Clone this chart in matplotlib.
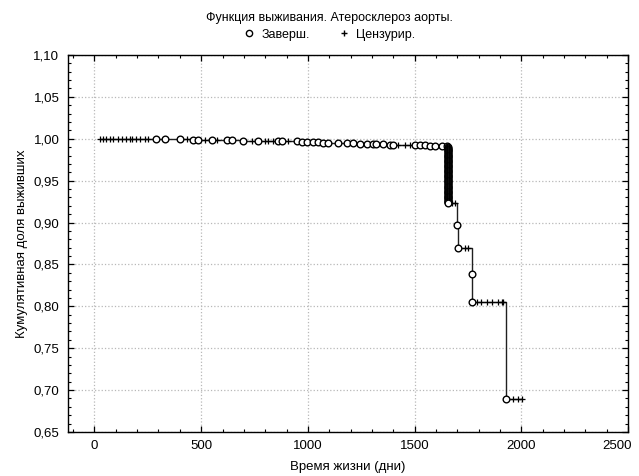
import matplotlib
matplotlib.use('Agg')
import matplotlib.pyplot as plt
from matplotlib.lines import Line2D
from matplotlib.ticker import MultipleLocator, FuncFormatter
from matplotlib.transforms import ScaledTranslation
import numpy as np

plt.rcParams['font.family'] = ['Liberation Sans', 'DejaVu Sans']

# Завершённые случаи (смерти): время, кумулятивная доля выживших
event_t = [290, 330, 400, 460, 485, 550, 620, 645, 697, 767,
           860, 878, 948, 972, 995, 1023, 1047, 1071, 1094, 1140,
           1183, 1211, 1244, 1277, 1305, 1320, 1352, 1385, 1400, 1502,
           1525, 1548, 1572, 1595, 1628, 1650]
event_s = [0.9998, 0.9995, 0.9993, 0.9990, 0.9988, 0.9985, 0.9983, 0.9980, 0.9978, 0.9975,
           0.9973, 0.9970, 0.9968, 0.9965, 0.9963, 0.9960, 0.9958, 0.9955, 0.9953, 0.9950,
           0.9948, 0.9945, 0.9943, 0.9940, 0.9938, 0.9935, 0.9933, 0.9930, 0.9928, 0.9925,
           0.9923, 0.9920, 0.9918, 0.9915, 0.9913, 0.9910]

# большой обрыв около 1656 дней (много смертей подряд)
drop_t = [1656] * 68
drop_s = [0.990, 0.989, 0.988, 0.987, 0.986, 0.985, 0.984, 0.983, 0.982, 0.981,
          0.980, 0.979, 0.978, 0.977, 0.976, 0.975, 0.974, 0.973, 0.972, 0.971,
          0.970, 0.969, 0.968, 0.967, 0.966, 0.965, 0.964, 0.963, 0.962, 0.961,
          0.960, 0.959, 0.958, 0.957, 0.956, 0.955, 0.954, 0.953, 0.952, 0.951,
          0.950, 0.949, 0.948, 0.947, 0.946, 0.945, 0.944, 0.943, 0.942, 0.941,
          0.940, 0.939, 0.938, 0.937, 0.936, 0.935, 0.934, 0.933, 0.932, 0.931,
          0.930, 0.929, 0.928, 0.927, 0.926, 0.925, 0.924, 0.923]

late_t = [1700, 1703, 1767, 1770, 1927]
late_s = [0.897, 0.870, 0.839, 0.805, 0.689]

# Цензурированные
cens_t = [25, 40, 55, 72, 86, 110, 130, 150, 165, 175, 195, 215, 235, 250,
          432, 517, 575, 737, 800, 815, 836, 907, 1422, 1455, 1478,
          1675, 1690, 1737, 1752, 1790, 1813, 1837, 1860, 1891, 1907, 1915,
          1962, 1985, 2004]
cens_s = [1.0] * 14 + [0.9993, 0.9985, 0.9985, 0.9978, 0.9975, 0.9975, 0.9975, 0.9970,
                       0.9928, 0.9928, 0.9928,
                       0.923, 0.923, 0.870, 0.870, 0.805, 0.805, 0.805, 0.805, 0.805, 0.805, 0.805,
                       0.689, 0.689, 0.689]

x_max = 2500

ev_t = np.array(event_t + drop_t + late_t, dtype=float)
ev_s = np.array(event_s + drop_s + late_s)
all_t = np.concatenate([ev_t, np.array(cens_t, dtype=float)])
all_s = np.concatenate([ev_s, np.array(cens_s)])
order = np.lexsort((-all_s, all_t))
line_t = all_t[order]
line_s = all_s[order]

fig = plt.figure(figsize=(6.39, 4.76), dpi=100)
ax = fig.add_axes([0.106, 0.0925, 0.877, 0.792])

ax.step(line_t, line_s, where='post', color='#202020', lw=1.0, zorder=3)
ax.plot(cens_t, cens_s, linestyle='none', marker='+', markersize=5,
        color='black', markeredgewidth=0.9, zorder=4)
idx = np.argsort(-ev_s)
ax.plot(ev_t[idx], ev_s[idx], linestyle='none', marker='o', markersize=4.8,
        markerfacecolor='white', markeredgecolor='black', markeredgewidth=1.0, zorder=5)

ax.set_xlim(-125, x_max)
ax.set_ylim(0.65, 1.10)
ax.xaxis.set_major_locator(MultipleLocator(500))
ax.xaxis.set_minor_locator(MultipleLocator(100))
ax.yaxis.set_major_locator(MultipleLocator(0.05))
ax.yaxis.set_minor_locator(MultipleLocator(0.01))
ax.yaxis.set_major_formatter(FuncFormatter(lambda v, p: f'{v:.2f}'.replace('.', ',')))
# последнюю подпись рисуем отдельно, прижатой к краю
ax.xaxis.set_major_formatter(FuncFormatter(lambda v, p: '' if v >= x_max else f'{v:.0f}'))

ax.tick_params(which='both', direction='in', top=True, right=True, labelsize=9.5, colors='black')
ax.tick_params(which='major', length=4, width=0.9, pad=6)
ax.tick_params(which='minor', length=2, width=0.8)
ax.grid(True, which='major', linestyle=':', color='#b8b8b8', lw=0.9)
ax.set_axisbelow(True)
for s in ax.spines.values():
    s.set_linewidth(1.0)

ax.text(1.0, 0.0, f'{x_max}', fontsize=9.5, ha='right', va='top',
        transform=ax.transAxes + ScaledTranslation(3 / 72, -6 / 72, fig.dpi_scale_trans))

ax.set_xlabel('Время жизни (дни)', fontsize=9.5, labelpad=6)
ax.set_ylabel('Кумулятивная доля выживших', fontsize=9.5, labelpad=4)

fig.text(0.515, 0.963, 'Функция выживания. Атеросклероз аорты.', ha='center', va='center', fontsize=9)
handles = [Line2D([], [], linestyle='none', marker='o', markersize=4.5, markerfacecolor='white',
                  markeredgecolor='black'),
           Line2D([], [], linestyle='none', marker='+', markersize=5, color='black')]
fig.legend(handles, ['Заверш.', 'Цензурир.'], loc='center', bbox_to_anchor=(0.515, 0.927),
           ncol=2, frameon=False, fontsize=9, handletextpad=0.5, columnspacing=2.2,
           handlelength=1.0)

fig.savefig('out.png', dpi=100)
